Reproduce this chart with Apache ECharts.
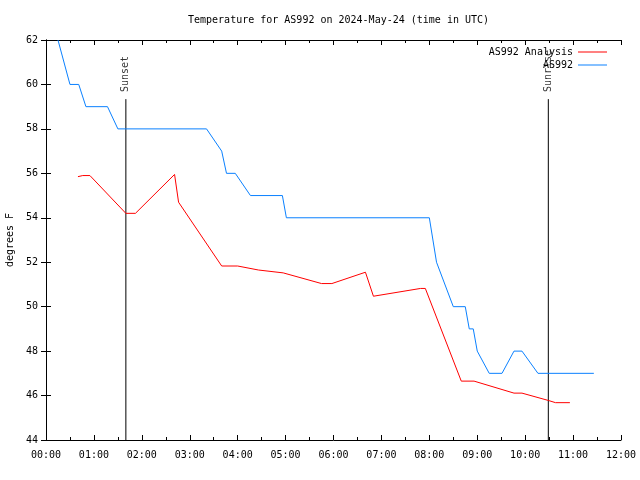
<!DOCTYPE html>
<html><head><meta charset="utf-8">
<script src="https://cdn.jsdelivr.net/npm/echarts@6/dist/echarts.min.js"></script>
<style>html,body{margin:0;padding:0;background:#fff}#c{width:640px;height:480px}</style>
</head><body><div id="c"></div>
<script>
var titleText = 'Temperature for AS992 on 2024-May-24 (time in UTC)';
var yAxisName = 'degrees F';
var xTickLabels = ['00:00','01:00','02:00','03:00','04:00','05:00','06:00','07:00','08:00','09:00','10:00','11:00','12:00'];

var analysisName = 'AS992 Analysis';
var analysisTimes = ['00:40','00:46','00:55','01:40','01:52','02:41','02:46','03:40','04:00','04:26','04:57','05:45','05:58','06:40','06:50','07:49','07:55','08:40','08:56','09:46','09:56','10:29','10:38','10:56'];
var analysisTemps = [55.85,55.9,55.9,54.2,54.2,55.95,54.7,51.83,51.83,51.65,51.52,51.04,51.04,51.55,50.47,50.82,50.82,46.65,46.65,46.11,46.11,45.78,45.68,45.68];

var obsName = 'AS992';
var obsTimes = ['00:15','00:30','00:41','00:50','01:17','01:30','03:21','03:40','03:46','03:57','04:16','04:56','05:01','08:00','08:09','08:30','08:45','08:50','08:55','09:00','09:15','09:31','09:46','09:56','10:16','11:26'];
var obsTemps = [62,60,60,59,59,58,58,57,56,56,55,55,54,54,52,50,50,49,49,48,47,47,48,48,47,47];

var sunEventNames = ['Sunset','Sunrise'];
var sunEventTimes = ['01:40','10:29'];
var sunLineTop = 59.34;

var yMin = 44, yMax = 62, yStep = 2;

function hrs(s){var p=s.split(':');return +p[0]+ (+p[1])/60;}
function pairs(ts, vs){return ts.map(function(t,i){return [hrs(t), vs[i]];});}

var FONT = 'DejaVu Sans Mono';
var series = [
  {name: analysisName, type:'line', data: pairs(analysisTimes, analysisTemps), showSymbol:false, symbol:'none',
   lineStyle:{color:'#ff0000', width:1}, itemStyle:{color:'#ff0000'}, animation:false, z:3},
  {name: obsName, type:'line', data: pairs(obsTimes, obsTemps), showSymbol:false, symbol:'none',
   lineStyle:{color:'#0a80ff', width:1}, itemStyle:{color:'#0a80ff'}, animation:false, z:3}
];
sunEventTimes.forEach(function(t, i){
  var x = hrs(t);
  series.push({name: sunEventNames[i]+'_line', type:'line', data:[[x,yMin],[x,sunLineTop]], symbol:'none',
    lineStyle:{color:'#000', width:1}, animation:false, z:2, silent:true});
  series.push({name: sunEventNames[i]+'_label', type:'scatter', data:[[x,sunLineTop]], symbolSize:0,
    label:{show:true, formatter: sunEventNames[i], rotate:90, position:'top', distance:7, align:'left', verticalAlign:'middle',
      fontFamily:FONT, fontSize:10, color:'#000'}, animation:false, silent:true, z:1});
});

var tickStyle = {show:true, inside:true, length:5, lineStyle:{color:'#000'}};
var chart = echarts.init(document.getElementById('c'), null, {renderer:'canvas'});
chart.setOption({
  backgroundColor:'#fff',
  animation:false,
  title:{text:titleText, left:183, top:10, textStyle:{fontFamily:FONT, fontSize:10, fontWeight:'normal', color:'#000'}},
  legend:{data:[analysisName, obsName], orient:'vertical', right:28, top:41, align:'right', itemWidth:29, itemHeight:1,
    itemGap:1, icon:'rect', textStyle:{fontFamily:FONT, fontSize:10, color:'#000', lineHeight:12}},
  grid:{left:46, right:19, top:40, bottom:40, outerBoundsMode:'none', containLabel:false},
  xAxis:[
    {type:'value', min:0, max:12, interval:1, position:'bottom',
     axisLine:{show:true, lineStyle:{color:'#000'}}, axisTick:tickStyle,
     minorTick:{show:true, splitNumber:2, length:3, lineStyle:{color:'#000'}},
     splitLine:{show:false},
     axisLabel:{margin:10, fontFamily:FONT, fontSize:10, color:'#000', formatter:function(v){return xTickLabels[Math.round(v)];}}},
    {type:'value', min:0, max:12, interval:1, position:'top',
     axisLine:{show:true, lineStyle:{color:'#000'}}, axisTick:tickStyle,
     minorTick:{show:true, splitNumber:2, length:3, lineStyle:{color:'#000'}},
     splitLine:{show:false}, axisLabel:{show:false}}
  ],
  yAxis:[
    {type:'value', min:yMin, max:yMax, interval:yStep, position:'left',
     name:yAxisName, nameLocation:'middle', nameGap:31, nameTextStyle:{fontFamily:FONT, fontSize:10, color:'#000'},
     axisLine:{show:true, lineStyle:{color:'#000'}}, axisTick:tickStyle, splitLine:{show:false},
     axisLabel:{margin:8, fontFamily:FONT, fontSize:10, color:'#000'}},
    {type:'value', min:yMin, max:yMax, interval:yStep, position:'right',
     axisLine:{show:true, lineStyle:{color:'#000'}}, axisTick:tickStyle, splitLine:{show:false},
     axisLabel:{show:false}}
  ],
  series: series
});
</script></body></html>
